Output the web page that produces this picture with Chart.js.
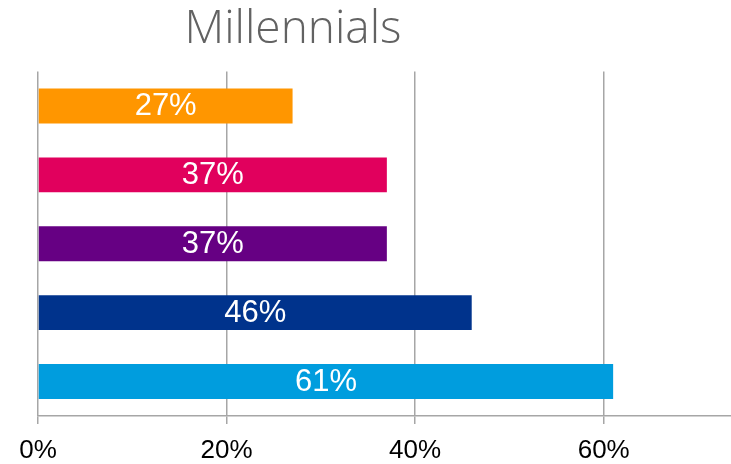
<!DOCTYPE html>
<html>
<head>
<meta charset="utf-8">
<script src="https://cdn.jsdelivr.net/npm/chart.js@4/dist/chart.umd.min.js"></script>
<style>
  html, body { margin: 0; padding: 0; background: #fff; }
  #wrap { width: 731px; height: 464px; }
</style>
</head>
<body>
<div id="wrap"><canvas id="barChart"></canvas></div>
<script>
// data (top bar first)
const groups = ['1', '2', '3', '4', '5'];
const shares = [27, 37, 37, 46, 61];
const barColors = ['#FF9600', '#E1005D', '#660083', '#00338C', '#009DDE'];
const tickValues = [0, 20, 40, 60];
const chartTitle = 'Millennials';

// title sits left of centre in the original, so draw it by hand
const titlePlugin = {
  id: 'titleText',
  afterDraw(chart) {
    const ctx = chart.ctx;
    ctx.save();
    ctx.font = '300 46px "Open Sans"';
    ctx.fillStyle = '#626262';
    ctx.textAlign = 'center';
    ctx.textBaseline = 'alphabetic';
    ctx.fillText(chartTitle, 293, 43);
    ctx.restore();
  }
};

// value labels in the middle of each bar
const valueLabels = {
  id: 'valueLabels',
  afterDatasetsDraw(chart) {
    const ctx = chart.ctx;
    const meta = chart.getDatasetMeta(0);
    ctx.save();
    ctx.font = '31px "Liberation Sans", Arial, sans-serif';
    ctx.fillStyle = '#ffffff';
    ctx.textAlign = 'center';
    ctx.textBaseline = 'middle';
    meta.data.forEach((bar, i) => {
      const cx = (bar.x + bar.base) / 2;
      ctx.fillText(shares[i] + '%', cx, bar.y + 1);
    });
    ctx.restore();
  }
};

const ctxB = document.getElementById('barChart').getContext('2d');
const myBarChart = new Chart(ctxB, {
  type: 'bar',
  data: {
    labels: groups,
    datasets: [{
      data: shares,
      backgroundColor: barColors,
      borderWidth: 0,
      barPercentage: 1,
      categoryPercentage: 0.507
    }]
  },
  options: {
    indexAxis: 'y',
    responsive: true,
    maintainAspectRatio: false,
    animation: false,
    layout: { padding: { top: 71.5, left: 38, right: 0, bottom: 0 } },
    plugins: {
      legend: { display: false },
      tooltip: { enabled: false }
    },
    scales: {
      x: {
        min: 0,
        max: 73.5,
        afterBuildTicks: (scale) => {
          scale.ticks = tickValues.map(v => ({ value: v }));
        },
        afterFit: (scale) => { scale.height = 48; },
        ticks: {
          includeBounds: false,
          color: '#000000',
          padding: 11,
          maxRotation: 0,
          font: { family: '"Liberation Sans", Arial, sans-serif', size: 26 },
          callback: (v) => v + '%'
        },
        grid: {
          color: '#a6a6a6',
          lineWidth: 1.5,
          tickLength: 8,
          drawOnChartArea: true
        },
        border: { color: '#a6a6a6', width: 1.5 }
      },
      y: {
        display: false
      }
    }
  },
  plugins: [titlePlugin, valueLabels]
});
</script>
</body>
</html>
